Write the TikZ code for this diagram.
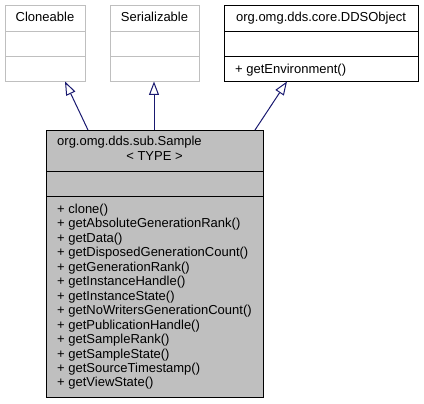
\documentclass[tikz,border=0pt]{standalone}
\usepackage{fontspec}
\setmainfont{Liberation Sans}
\usetikzlibrary{arrows.meta}
\definecolor{edgeblue}{HTML}{191970}
\definecolor{boxgray}{HTML}{BFBFBF}
\definecolor{extgray}{HTML}{BFBFBF}
\tikzset{
  classbox/.style={draw=black, line width=1pt, fill=white, inner sep=0pt, anchor=north west},
  extbox/.style={classbox, draw=extgray},
  mainbox/.style={classbox, fill=boxgray},
  divider/.style={line width=1pt},
  lbl/.style={inner sep=0pt, font=\fontsize{13}{14.4}\selectfont},
  inherit/.style={draw=edgeblue, line width=1pt, -{Triangle[open, length=13.5pt, width=10pt, fill=white]}}
}
\begin{document}
\begin{tikzpicture}[x=1pt, y=-1pt]
\useasboundingbox (0,0) rectangle (424,404);
% Cloneable
\node[extbox, minimum width=80pt, minimum height=76.5pt] (clone) at (5,5) {};
\draw[divider, extgray] (5,31.5) -- (85,31.5) (5,56.5) -- (85,56.5);
\node[lbl, anchor=base] (clonet) at (45,21.5) {Cloneable};
% Serializable
\node[extbox, minimum width=89pt, minimum height=76.5pt] (ser) at (110,5) {};
\draw[divider, extgray] (110,31.5) -- (199,31.5) (110,56.5) -- (199,56.5);
\node[lbl, anchor=base] (sert) at (154.5,21.5) {Serializable};
% DDSObject
\node[classbox, minimum width=194pt, minimum height=76.5pt] (dds) at (224,5) {};
\draw[divider] (224,31.5) -- (418,31.5) (224,56.5) -- (418,56.5);
\node[lbl, anchor=base] (ddst) at (321,21.5) {org.omg.dds.core.DDSObject};
\node[lbl, anchor=base west] (ddsm) at (235,73.5) {+ getEnvironment()};
% Sample
\node[mainbox, minimum width=217pt, minimum height=267pt] (sample) at (46,130) {};
\draw[divider] (46,171.5) -- (263,171.5) (46,196.5) -- (263,196.5);
\node[lbl, anchor=base west] (st1) at (57,145.5) {org.omg.dds.sub.Sample};
\node[lbl, anchor=base] (st2) at (154.5,161) {< TYPE >};
\foreach \m [count=\i] in {clone(), getAbsoluteGenerationRank(), getData(), getDisposedGenerationCount(), getGenerationRank(), getInstanceHandle(), getInstanceState(), getNoWritersGenerationCount(), getPublicationHandle(), getSampleRank(), getSampleState(), getSourceTimestamp(), getViewState()}
  \node[lbl, anchor=base west] (m\i) at (57,{213.5+(\i-1)*14.45}) {+ \m};
% edges
\coordinate (e1s) at (88,130);
\coordinate (e1t) at (65,81.5);
\coordinate (e2s) at (154,130);
\coordinate (e2t) at (154,81.5);
\coordinate (e3s) at (255,130);
\coordinate (e3t) at (287,81.5);
\draw[inherit] (e1s) -- (e1t);
\draw[inherit] (e2s) -- (e2t);
\draw[inherit] (e3s) -- (e3t);
\end{tikzpicture}
\end{document}
